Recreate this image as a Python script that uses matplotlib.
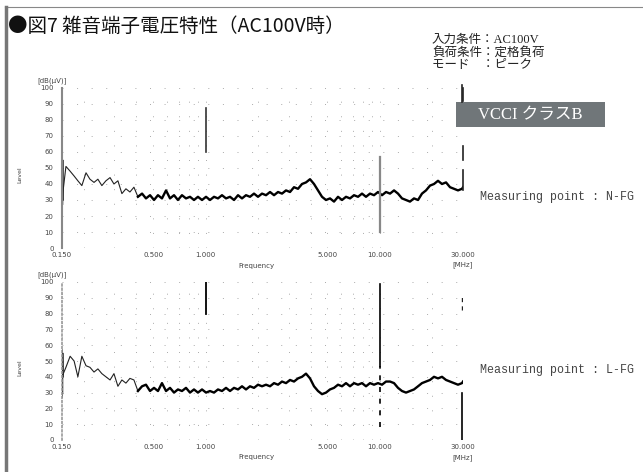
import matplotlib
matplotlib.use("Agg")
import matplotlib.pyplot as plt
from matplotlib.lines import Line2D
from matplotlib.patches import Rectangle
from matplotlib.ticker import FixedLocator, NullFormatter, LogLocator

plt.rcParams['font.family'] = ['DejaVu Sans', 'Noto Sans CJK JP']

# sweep frequencies [MHz], shared by both measurements
freq = [0.150, 0.158, 0.167, 0.176, 0.185, 0.195, 0.206, 0.217, 0.229, 0.241,
        0.254, 0.268, 0.283, 0.298, 0.314, 0.331, 0.349, 0.368, 0.388, 0.409,
        0.432, 0.455, 0.480, 0.506, 0.533, 0.562, 0.593, 0.625, 0.659, 0.694,
        0.732, 0.772, 0.814, 0.858, 0.904, 0.954, 1.006, 1.060, 1.118, 1.178,
        1.242, 1.310, 1.381, 1.456, 1.535, 1.618, 1.706, 1.798, 1.896, 1.999,
        2.108, 2.222, 2.343, 2.470, 2.604, 2.745, 2.894, 3.051, 3.217, 3.391,
        3.575, 3.769, 3.974, 4.190, 4.417, 4.657, 4.909, 5.176, 5.457, 5.753,
        6.065, 6.394, 6.741, 7.107, 7.493, 7.900, 8.328, 8.780, 9.257, 9.759,
        10.29, 10.85, 11.44, 12.06, 12.71, 13.40, 14.13, 14.89, 15.70, 16.56,
        17.45, 18.40, 19.40, 20.45, 21.56, 22.73, 23.97, 25.27, 26.64, 28.08,
        29.61, 30.0]

# N-FG level [dB(uV)]
level_n = [30, 51, 48, 45, 42, 39, 47, 43, 41, 43,
           39, 42, 44, 40, 42, 34, 37, 35, 38, 32,
           34, 31, 33, 30, 33, 31, 36, 31, 33, 30,
           33, 31, 32, 30, 32, 30, 32, 30, 32, 31,
           33, 31, 32, 30, 33, 31, 33, 32, 34, 32,
           34, 33, 35, 33, 35, 34, 36, 35, 38, 37,
           40, 41, 43, 40, 36, 32, 30, 31, 29, 32,
           30, 32, 31, 33, 32, 34, 32, 34, 33, 35,
           33, 35, 34, 36, 34, 31, 30, 29, 31, 30,
           34, 36, 39, 40, 42, 40, 41, 38, 37, 36,
           37, 38]

# L-FG level [dB(uV)]
level_l = [40, 46, 53, 50, 40, 53, 47, 46, 43, 45,
           42, 40, 38, 42, 34, 38, 36, 39, 38, 31,
           34, 35, 31, 33, 31, 36, 31, 33, 30, 32,
           31, 33, 30, 32, 30, 32, 30, 31, 30, 32,
           31, 33, 31, 33, 32, 34, 32, 34, 33, 35,
           34, 35, 34, 36, 35, 37, 36, 38, 37, 39,
           40, 42, 39, 34, 31, 29, 30, 32, 33, 35,
           34, 36, 34, 36, 35, 36, 34, 36, 35, 36,
           35, 37, 37, 36, 33, 31, 30, 31, 32, 34,
           36, 37, 38, 40, 39, 40, 38, 37, 36, 35,
           36, 37]

# spike burst at the start of the sweep
burst_f = [0.150, 0.1505, 0.151, 0.1515, 0.152]
burst_n = [28, 57, 27, 55, 30]
burst_l = [27, 57, 29, 55, 40]

xticks = [0.15, 0.5, 1, 5, 10, 30]
xlabels = ["0.150", "0.500", "1.000", "5.000", "10.000", "30.000"]
yticks = list(range(0, 101, 10))

W, H = 643, 472
fig = plt.figure(figsize=(W / 100, H / 100), dpi=100)


def fx(px):
    return px / W


def fy(py):
    return 1 - py / H


def setup(ax, lv, bf, bl):
    ax.set_xscale('log')
    ax.set_xlim(0.15, 30)
    ax.set_ylim(0, 100)
    ax.xaxis.set_major_locator(FixedLocator(xticks))
    ax.set_xticklabels(xlabels)
    ax.xaxis.set_minor_locator(LogLocator(subs=range(2, 10)))
    ax.xaxis.set_minor_formatter(NullFormatter())
    ax.set_yticks(yticks)
    ax.set_yticklabels([str(v) for v in yticks])
    ax.tick_params(which='both', length=0, labelsize=5, colors='#444')
    ax.tick_params(axis='y', pad=6)
    ax.tick_params(axis='x', pad=3)
    ax.grid(which='both', ls=(0, (1, 14)), color='#aaa', lw=0.7)
    for s in ['top', 'right', 'bottom']:
        ax.spines[s].set_visible(False)
    ax.plot(bf, bl, color='#222', lw=0.9)
    ax.plot(freq[:20], lv[:20], color='#222', lw=0.8)
    ax.plot(freq[19:], lv[19:], color='black', lw=1.7)
    ax.text(-0.025, 1.045, '[dB(μV)]', transform=ax.transAxes, fontsize=5,
            ha='center', va='center', color='#444')


ax1 = fig.add_axes([fx(62), fy(248), fx(401), 160 / H])
setup(ax1, level_n, burst_f, burst_n)
ax1.spines['left'].set_color('#888')
ax1.spines['left'].set_linewidth(1.5)
ax1.axvline(1.0, 0.60, 0.875, color='#333', lw=1.2)
ax1.axvline(10, 0.10, 0.57, color='#888', lw=1.6)
ax1.axvline(30, 0.92, 1.0, color='#222', lw=1.2, clip_on=False)
ax1.axvline(30, 0.55, 0.64, color='#222', lw=1.2, clip_on=False)
ax1.axvline(30, 0.36, 0.49, color='#222', lw=1.2, clip_on=False)
ax1.text(0.486, -0.115, 'Frequency', transform=ax1.transAxes, fontsize=5,
         ha='center', va='center', color='#444')
ax1.text(0.998, -0.105, '[MHz]', transform=ax1.transAxes, fontsize=5,
         ha='center', va='center', color='#444')
ax1.text(-0.105, 0.46, 'Level', transform=ax1.transAxes, fontsize=4.5,
         rotation=90, ha='center', va='center', color='#444')

ax2 = fig.add_axes([fx(62), fy(440), fx(401), 158 / H])
setup(ax2, level_l, burst_f, burst_l)
ax2.spines['left'].set_color('#999')
ax2.spines['left'].set_linestyle((0, (1, 1.5)))
ax2.spines['left'].set_linewidth(1.2)
ax2.axvline(1.0, 0.80, 1.0, color='black', lw=1.3)
ax2.axvline(10, 0.47, 0.99, color='black', lw=1.2)
ax2.axvline(10, 0.08, 0.47, color='black', lw=1.2, ls=(0, (3, 4)))
ax2.axvline(29.7, 0.0, 0.30, color='black', lw=1.2)
ax2.axvline(29.7, 0.82, 0.92, color='#222', lw=1.0, ls=(0, (3, 3)))
ax2.text(0.486, -0.108, 'Frequency', transform=ax2.transAxes, fontsize=5,
         ha='center', va='center', color='#444')
ax2.text(0.998, -0.11, '[MHz]', transform=ax2.transAxes, fontsize=5,
         ha='center', va='center', color='#444')
ax2.text(-0.105, 0.46, 'Level', transform=ax2.transAxes, fontsize=4.5,
         rotation=90, ha='center', va='center', color='#444')

# page frame
fig.add_artist(Line2D([fx(5), 1], [fy(7), fy(7)], color='#888', lw=0.8))
fig.add_artist(Line2D([fx(6), fx(6)], [0, fy(7)], color='#777', lw=2.5))

fig.text(fx(8), fy(26), '●図7 雑音端子電圧特性（AC100V時）', fontsize=14,
         family=['Noto Sans CJK JP'], ha='left', va='center', color='#111')

serif_jp = ['Liberation Serif', 'Noto Sans CJK JP']
cond = ['入力条件：AC100V', '負荷条件：定格負荷', 'モード　：ピーク']
for i, t in enumerate(cond):
    fig.text(fx(432), fy(40 + 12.5 * i), t, fontsize=9, family=serif_jp,
             ha='left', va='center', color='#222')

fig.add_artist(Line2D([fx(462), fx(462)], [fy(85), fy(102)], color='#222', lw=1.2))
fig.add_artist(Rectangle((fx(456), fy(127)), fx(149), 25 / H,
                         transform=fig.transFigure, facecolor='#707679',
                         edgecolor='none'))
fig.text(fx(530), fy(115), 'VCCI クラスB', fontsize=12, family=serif_jp,
         color='white', ha='center', va='center')

fig.text(fx(480), fy(197), 'Measuring point : N-FG', fontsize=8.4,
         family='Liberation Mono', color='#444', ha='left', va='center')
fig.text(fx(480), fy(370), 'Measuring point : L-FG', fontsize=8.4,
         family='Liberation Mono', color='#444', ha='left', va='center')

fig.savefig('out.png', dpi=100)
